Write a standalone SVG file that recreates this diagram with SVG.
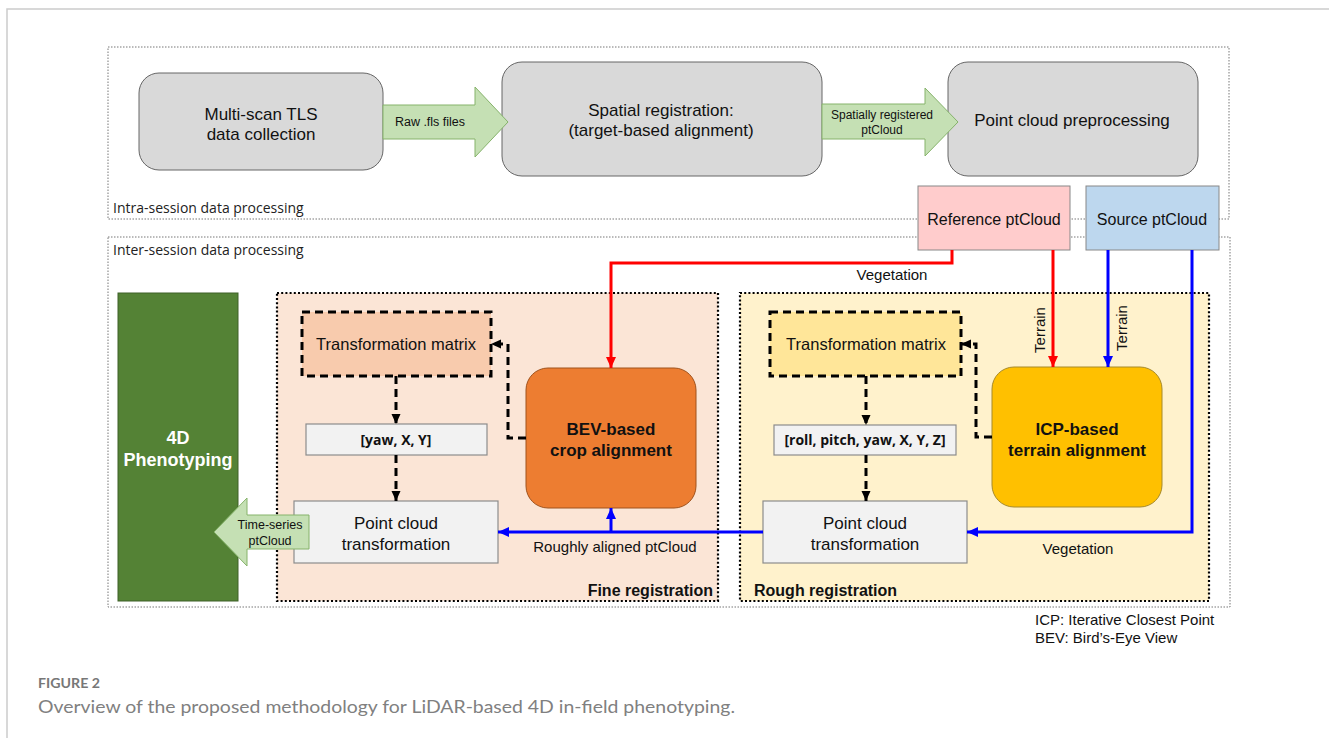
<svg xmlns="http://www.w3.org/2000/svg" width="1329" height="738" viewBox="0 0 1329 738">
<style>
.t{font-family:"Liberation Sans",Arial,sans-serif;fill:#111;text-anchor:middle}
.b{font-weight:bold}
.o{font-family:"Open Sans","Liberation Sans",sans-serif;fill:#222;font-size:14px}
.gray{fill:#d9d9d9;stroke:#666;stroke-width:1}
.light{fill:#f2f2f2;stroke:#8c8c8c;stroke-width:1.2}
.garrow{fill:#c5e0b4;stroke:#86b36b;stroke-width:1}
.red{fill:none;stroke:#ff0000;stroke-width:3}
.blue{fill:none;stroke:#0000ff;stroke-width:3}
.blk{fill:none;stroke:#000;stroke-width:3;stroke-dasharray:8,5}
</style>
<defs>
<marker id="ar" markerUnits="userSpaceOnUse" markerWidth="12" markerHeight="12" refX="11" refY="6" orient="auto"><path d="M0,1 L11,6 L0,11 z" fill="#ff0000"/></marker>
<marker id="ab" markerUnits="userSpaceOnUse" markerWidth="12" markerHeight="12" refX="11" refY="6" orient="auto"><path d="M0,1 L11,6 L0,11 z" fill="#0000ff"/></marker>
<marker id="ak" markerUnits="userSpaceOnUse" markerWidth="12" markerHeight="12" refX="10" refY="6" orient="auto"><path d="M0,1.5 L10,6 L0,10.5 z" fill="#000"/></marker>
</defs>

<!-- figure frame -->
<path d="M7,738 V9 H1329" fill="none" stroke="#cccccc" stroke-width="1.5"/>

<!-- session regions -->
<g id="intra-session">
<rect x="108" y="47" width="1121" height="172" fill="none" stroke="#777" stroke-width="1" stroke-dasharray="1.5,1.5"/>
<text class="o" x="113" y="213">Intra-session data processing</text>
</g>
<g id="inter-session">
<rect x="108" y="237" width="1122" height="370" fill="none" stroke="#777" stroke-width="1" stroke-dasharray="1.5,1.5"/>
<text class="o" x="113" y="255">Inter-session data processing</text>
</g>

<g id="fine-registration">
<rect x="277" y="293" width="441" height="308" fill="#fbe5d6" stroke="#000" stroke-width="2.2" stroke-dasharray="2,2.2"/>
<text class="t b" x="713" y="596" font-size="16" style="text-anchor:end">Fine registration</text>
</g>
<g id="rough-registration">
<rect x="740" y="293" width="469" height="308" fill="#fff2cc" stroke="#000" stroke-width="2.2" stroke-dasharray="2,2.2"/>
<text class="t b" x="754" y="596" font-size="16" style="text-anchor:start">Rough registration</text>
</g>

<!-- top row nodes -->
<g id="multi-scan">
<rect class="gray" x="139" y="73" width="244" height="97" rx="20"/>
<text class="t" x="261" y="120" font-size="17">Multi-scan TLS</text>
<text class="t" x="261" y="140" font-size="17">data collection</text>
</g>
<g id="spatial-registration">
<rect class="gray" x="502" y="62" width="320" height="114" rx="20"/>
<text class="t" x="661" y="116" font-size="17">Spatial registration:</text>
<text class="t" x="661" y="136" font-size="17">(target-based alignment)</text>
</g>
<g id="preprocessing">
<rect class="gray" x="948" y="62" width="250" height="114" rx="20"/>
<text class="t" x="1072" y="126" font-size="17">Point cloud preprocessing</text>
</g>

<g id="arrow-raw">
<polygon class="garrow" points="383,105 475,105 475,87 508,122 475,157 475,139 383,139"/>
<text class="t" x="430" y="126" font-size="12.5">Raw .fls files</text>
</g>
<g id="arrow-spatial">
<polygon class="garrow" points="822,104 925,104 925,88 958,122 925,156 925,139 822,139"/>
<text class="t" x="882" y="119" font-size="12">Spatially registered</text>
<text class="t" x="882" y="134" font-size="12">ptCloud</text>
</g>

<g id="reference-ptcloud">
<rect x="918" y="186" width="152" height="64" fill="#ffcccc" stroke="#888" stroke-width="1"/>
<text class="t" x="994" y="225" font-size="16">Reference ptCloud</text>
</g>
<g id="source-ptcloud">
<rect x="1086" y="186" width="133" height="64" fill="#bdd7ee" stroke="#888" stroke-width="1"/>
<text class="t" x="1152" y="225" font-size="16">Source ptCloud</text>
</g>

<!-- fine registration nodes -->
<g id="fine-matrix">
<rect x="302" y="312" width="189" height="64" fill="#f8cbad" stroke="#000" stroke-width="3" stroke-dasharray="8,5"/>
<text class="t" x="396" y="350" font-size="16.5">Transformation matrix</text>
</g>
<g id="fine-params">
<rect class="light" x="306" y="424" width="181" height="31"/>
<text class="t b" x="396" y="445" font-size="14" style="font-family:'Open Sans','Liberation Sans',sans-serif">[yaw, X, Y]</text>
</g>
<g id="fine-transform">
<rect class="light" x="294" y="501" width="204" height="62"/>
<text class="t" x="396" y="529" font-size="17">Point cloud</text>
<text class="t" x="396" y="550" font-size="17">transformation</text>
</g>
<g id="bev-alignment">
<rect x="526" y="368" width="170" height="140" rx="22" fill="#ed7d31" stroke="#a0521c" stroke-width="1"/>
<text class="t b" x="611" y="435" font-size="17">BEV-based</text>
<text class="t b" x="611" y="456" font-size="17">crop alignment</text>
</g>

<!-- rough registration nodes -->
<g id="rough-matrix">
<rect x="770" y="312" width="191" height="64" fill="#ffe699" stroke="#000" stroke-width="3" stroke-dasharray="8,5"/>
<text class="t" x="866" y="350" font-size="16.5">Transformation matrix</text>
</g>
<g id="rough-params">
<rect class="light" x="774" y="425" width="182" height="30"/>
<text class="t b" x="865" y="445" font-size="14" style="font-family:'Open Sans','Liberation Sans',sans-serif">[roll, pitch, yaw, X, Y, Z]</text>
</g>
<g id="rough-transform">
<rect class="light" x="763" y="501" width="204" height="62"/>
<text class="t" x="865" y="529" font-size="17">Point cloud</text>
<text class="t" x="865" y="550" font-size="17">transformation</text>
</g>
<g id="icp-alignment">
<rect x="992" y="367" width="170" height="140" rx="22" fill="#ffc000" stroke="#a68a2a" stroke-width="1"/>
<text class="t b" x="1077" y="435" font-size="17">ICP-based</text>
<text class="t b" x="1077" y="456" font-size="17">terrain alignment</text>
</g>

<g id="phenotyping">
<rect x="118" y="293" width="120" height="308" fill="#548235" stroke="#3e6128" stroke-width="1"/>
<text class="t b" x="178" y="444" font-size="18" style="fill:#fff">4D</text>
<text class="t b" x="178" y="466" font-size="18" style="fill:#fff">Phenotyping</text>
</g>

<!-- connectors -->
<g id="connectors">
<path class="red" d="M952,250 V263 H611 V368" marker-end="url(#ar)"/>
<path class="red" d="M1053,250 V367" marker-end="url(#ar)"/>
<path class="blue" d="M1108,250 V367" marker-end="url(#ab)"/>
<path class="blue" d="M1192,250 V532 H967" marker-end="url(#ab)"/>
<path class="blue" d="M763,532 H498" marker-end="url(#ab)"/>
<path class="blue" d="M611,532 V508" marker-end="url(#ab)"/>
<path class="blk" d="M526,438 H508 V344 H491" marker-end="url(#ak)"/>
<path class="blk" d="M396,376 V424" marker-end="url(#ak)"/>
<path class="blk" d="M396,455 V501" marker-end="url(#ak)"/>
<path class="blk" d="M992,437 H976 V344 H961" marker-end="url(#ak)"/>
<path class="blk" d="M866,376 V425" marker-end="url(#ak)"/>
<path class="blk" d="M866,455 V501" marker-end="url(#ak)"/>
<text class="t" x="892" y="280" font-size="15">Vegetation</text>
<text class="t" x="1078" y="554" font-size="15">Vegetation</text>
<text class="t" x="615" y="552" font-size="15">Roughly aligned ptCloud</text>
<text class="t" font-size="15" transform="translate(1045,330) rotate(-90)">Terrain</text>
<text class="t" font-size="15" transform="translate(1127,328) rotate(-90)">Terrain</text>
<polygon class="garrow" points="309,515 247,515 247,498 214,532 247,566 247,549 309,549"/>
<text class="t" x="270" y="529" font-size="12.5">Time-series</text>
<text class="t" x="270" y="545" font-size="12.5">ptCloud</text>
</g>

<!-- legend and caption -->
<text class="t" x="1035" y="625" font-size="15" style="text-anchor:start">ICP: Iterative Closest Point</text>
<text class="t" x="1035" y="643" font-size="15" style="text-anchor:start">BEV: Bird’s-Eye View</text>
<text x="38" y="688" font-family="Lato,'Open Sans',sans-serif" font-size="14" font-weight="bold" fill="#777" textLength="62" lengthAdjust="spacingAndGlyphs">FIGURE 2</text>
<text x="38" y="713" font-family="Lato,'Open Sans',sans-serif" font-size="17.5" fill="#808080" textLength="697" lengthAdjust="spacingAndGlyphs">Overview of the proposed methodology for LiDAR-based 4D in-field phenotyping.</text>
</svg>
